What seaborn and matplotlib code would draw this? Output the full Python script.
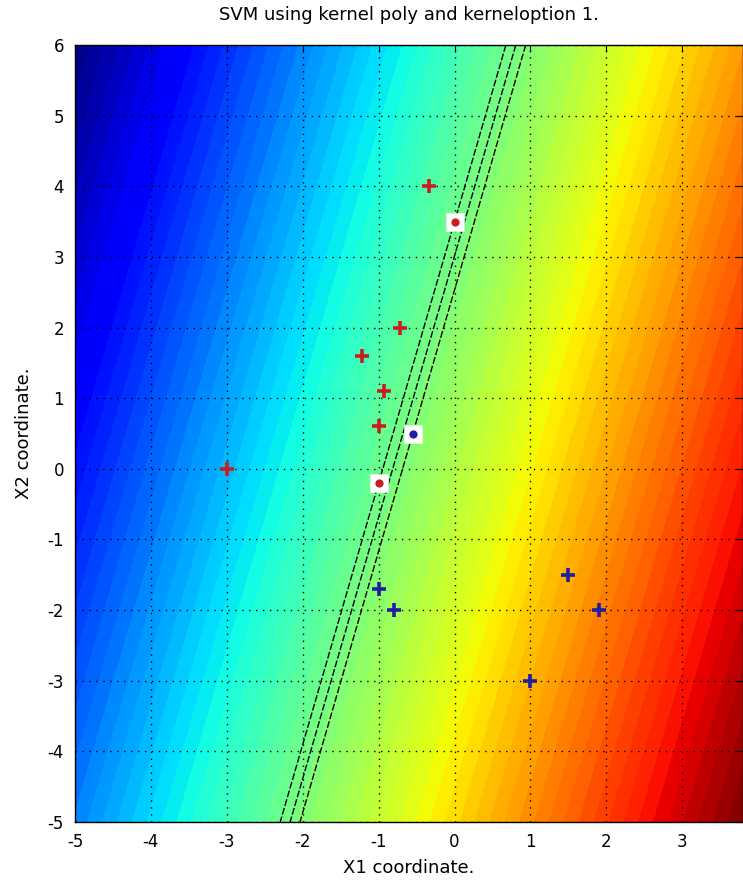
import numpy as np
import pandas as pd
import matplotlib
matplotlib.use("Agg")
import matplotlib.pyplot as plt
import seaborn as sns

# ---- data ----
red_x = [-0.33, 0.0, -0.72, -1.22, -0.93, -1.0, -3.0, -1.0]
red_y = [4.0, 3.5, 2.0, 1.6, 1.1, 0.6, 0.0, -0.2]
blue_x = [-0.55, -1.0, -0.8, 1.0, 1.5, 1.9]
blue_y = [0.5, -1.7, -2.0, -3.0, -1.5, -2.0]
sv_red_x = [0.0, -1.0]
sv_red_y = [3.5, -0.2]
sv_blue_x = [-0.55]
sv_blue_y = [0.5]
# linear decision function f = w1*x1 + w2*x2 + b
w = [7.67, -2.073]
b = 6.25
contour_levels = [-1, 0, 1]
xticks = [-5, -4, -3, -2, -1, 0, 1, 2, 3]
yticks = [-5, -4, -3, -2, -1, 0, 1, 2, 3, 4, 5, 6]
title = "SVM using kernel poly and kerneloption 1."
xlabel = "X1 coordinate."
ylabel = "X2 coordinate."

sns.set_style("white")
plt.rcParams['font.family'] = ['DejaVu Sans']
plt.rcParams['axes.unicode_minus'] = False
plt.rcParams['text.color'] = 'black'
plt.rcParams['axes.labelcolor'] = 'black'
plt.rcParams['xtick.color'] = 'black'
plt.rcParams['ytick.color'] = 'black'

fig = plt.figure(figsize=(7.43, 8.91), dpi=100)
W, H = 743, 891
ax = fig.add_axes([75 / W, (H - 822) / H, 668 / W, 777 / H])

gx = np.linspace(-5, 3.8, 300)
gy = np.linspace(-5, 6, 300)
X1, X2 = np.meshgrid(gx, gy)
F = w[0] * X1 + w[1] * X2 + b

ax.contourf(X1, X2, F, levels=np.linspace(F.min(), F.max(), 61), cmap="jet")
ax.contour(X1, X2, F, levels=contour_levels, colors="k",
           linewidths=1.0, linestyles=[(0, (5, 1.5))])

red = "#c81e1e"
blue = "#1e1ea0"
df_r = pd.DataFrame({"x": red_x, "y": red_y})
df_b = pd.DataFrame({"x": blue_x, "y": blue_y})
sns.scatterplot(data=df_r, x="x", y="y", marker="+", s=110, linewidth=2.6,
                color=red, ax=ax, zorder=5, legend=False)
sns.scatterplot(data=df_b, x="x", y="y", marker="+", s=110, linewidth=2.6,
                color=blue, ax=ax, zorder=5, legend=False)

df_svr = pd.DataFrame({"x": sv_red_x, "y": sv_red_y})
df_svb = pd.DataFrame({"x": sv_blue_x, "y": sv_blue_y})
for d, c in [(df_svr, red), (df_svb, blue)]:
    sns.scatterplot(data=d, x="x", y="y", marker="s", s=150, color="white",
                    edgecolor="#f0f0f0", linewidth=0.5, ax=ax, zorder=6, legend=False)
    sns.scatterplot(data=d, x="x", y="y", marker="o", s=35, color=c,
                    edgecolor=c, linewidth=0, ax=ax, zorder=7, legend=False)

ax.set_xlim(-5, 3.8)
ax.set_ylim(-5, 6)
ax.set_xticks(xticks)
ax.set_yticks(yticks)
ax.tick_params(direction="in", length=5, labelsize=12, top=True, right=True,
               pad=8, color="k", labelcolor="k")
ax.grid(True, linestyle=(0, (1, 4)), color="k", linewidth=1.0)
ax.set_axisbelow(False)
for s in ax.spines.values():
    s.set_color("k")
    s.set_linewidth(1.0)

ax.set_title(title, fontsize=13, pad=18, color="k")
ax.set_xlabel(xlabel, fontsize=13, labelpad=6, color="k")
ax.set_ylabel(ylabel, fontsize=13, labelpad=10, color="k")

fig.savefig("out.png", dpi=100)
